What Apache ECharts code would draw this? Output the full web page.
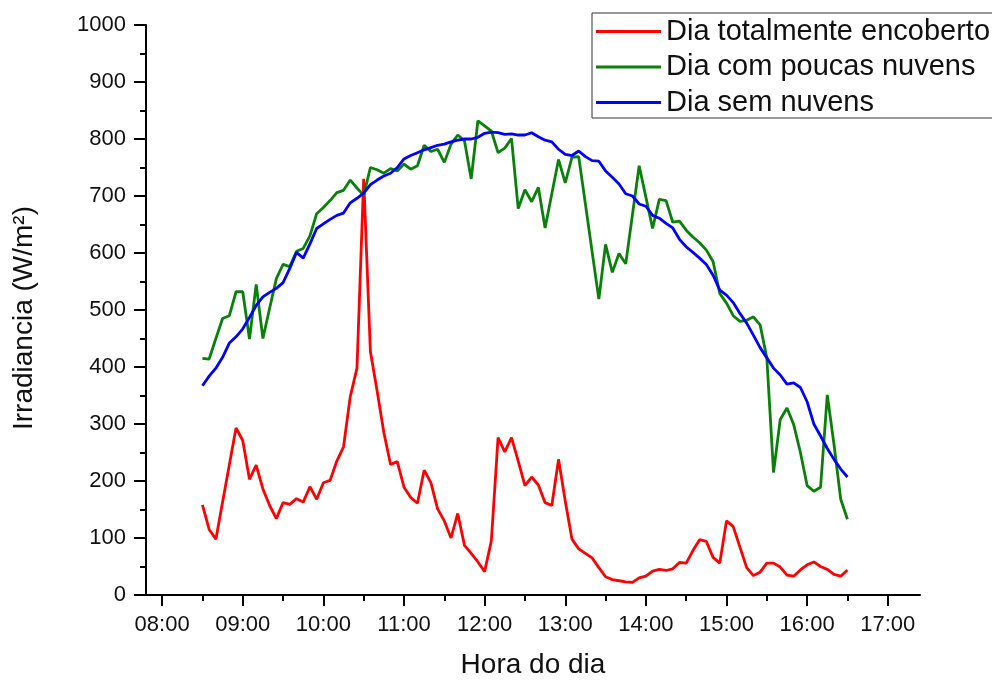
<!DOCTYPE html>
<html>
<head>
<meta charset="utf-8">
<title>Irradiancia</title>
<script src="https://cdn.jsdelivr.net/npm/echarts@6/dist/echarts.min.js"></script>
<style>
  html, body { margin: 0; padding: 0; background: #fff; }
  #chart { width: 992px; height: 684px; }
</style>
</head>
<body>
<div id="chart"></div>
<script>
// amostras a cada 5 min, de 08:30 a 16:30 (horas decimais)
var startHour = 8.5;
var stepMinutes = 5;

var seriesNames = ['Dia totalmente encoberto', 'Dia com poucas nuvens', 'Dia sem nuvens'];
var seriesColors = ['#ff0000', '#0a7f0a', '#0000ff'];

// W/m²
var encoberto = [
  158, 115, 98, 163, 228, 293, 271, 203, 228, 186, 157, 134, 162, 159, 169, 163,
  190, 168, 197, 201, 235, 260, 348, 398, 730, 427, 358, 285, 229, 234, 189, 171,
  161, 219, 197, 151, 130, 100, 143, 87, 73, 58, 41, 95, 276, 251, 276, 235,
  192, 207, 193, 162, 157, 238, 165, 98, 81, 73, 65, 48, 32, 27, 25, 23,
  22, 30, 33, 42, 45, 43, 46, 57, 56, 78, 97, 94, 66, 56, 130, 120,
  84, 48, 34, 40, 56, 56, 49, 35, 33, 44, 53, 58, 50, 45, 36, 33, 44
];
var poucasNuvens = [
  415, 414, 450, 485, 490, 532, 532, 449, 545, 450, 503, 555, 580, 576, 603, 608,
  630, 669, 680, 692, 706, 710, 728, 714, 701, 750, 746, 740, 748, 744, 756, 747,
  753, 789, 778, 782, 759, 791, 807, 797, 730, 832, 823, 814, 776, 784, 801, 678,
  711, 690, 715, 644, 704, 764, 723, 768, 769, 686, 602, 519, 615, 566, 599, 581,
  667, 753, 698, 643, 694, 692, 654, 656, 640, 628, 618, 605, 585, 529, 512, 490,
  480, 482, 488, 474, 416, 215, 308, 328, 299, 250, 192, 182, 189, 351, 264, 168, 133
];
var semNuvens = [
  367, 384, 398, 417, 442, 453, 467, 487, 508, 523, 531, 538, 548, 573, 601, 591,
  616, 643, 651, 659, 666, 670, 688, 696, 705, 720, 728, 735, 740, 750, 765, 771,
  776, 781, 785, 789, 791, 795, 798, 800, 800, 803, 810, 812, 811, 808, 809, 807,
  807, 811, 804, 798, 795, 782, 773, 771, 779, 769, 762, 761, 744, 733, 721, 704,
  700, 686, 682, 666, 661, 652, 644, 624, 611, 601, 591, 580, 561, 535, 526, 513,
  494, 477, 456, 434, 416, 398, 386, 370, 372, 364, 339, 300, 279, 257, 238, 221, 207
];

var hourTicks = [8, 9, 10, 11, 12, 13, 14, 15, 16, 17];
var halfHourTicks = [8.5, 9.5, 10.5, 11.5, 12.5, 13.5, 14.5, 15.5, 16.5];

var times = [];
for (var i = 0; i < encoberto.length; i++) {
  times.push(startHour + i * stepMinutes / 60);
}

function pairs(values) {
  return values.map(function (v, i) { return [times[i], v]; });
}

function hourLabel(v) {
  var h = Math.round(v);
  return (h < 10 ? '0' + h : '' + h) + ':00';
}

var chart = echarts.init(document.getElementById('chart'));
var font = 'Arial, "Liberation Sans", sans-serif';

var option = {
  backgroundColor: '#fff',
  animation: false,
  grid: { left: 146, top: 25, right: 72, bottom: 86 },
  legend: {
    left: 592,
    top: 13,
    orient: 'vertical',
    data: seriesNames,
    icon: 'rect',
    itemWidth: 65,
    itemHeight: 3,
    itemGap: 6.5,
    padding: [4, 30, 1, 4],
    borderColor: '#333',
    borderWidth: 1,
    backgroundColor: '#fff',
    textStyle: { fontFamily: font, fontSize: 29, color: '#111' }
  },
  xAxis: [
    {
      type: 'value',
      min: 7.8,
      max: 17.4,
      name: 'Hora do dia',
      nameLocation: 'middle',
      nameGap: 56,
      nameTextStyle: { fontFamily: font, fontSize: 28, color: '#111' },
      axisLine: { lineStyle: { color: '#000', width: 2 } },
      axisTick: { inside: false, length: 11, lineStyle: { width: 2, color: '#000' }, customValues: hourTicks },
      axisLabel: { fontFamily: font, fontSize: 22, color: '#111', margin: 19, customValues: hourTicks, formatter: hourLabel },
      splitLine: { show: false }
    },
    {
      type: 'value',
      min: 7.8,
      max: 17.4,
      position: 'bottom',
      axisLine: { show: false },
      axisTick: { inside: false, length: 6, lineStyle: { width: 2, color: '#000' }, customValues: halfHourTicks },
      axisLabel: { show: false },
      splitLine: { show: false }
    }
  ],
  yAxis: {
    type: 'value',
    min: 0,
    max: 1000,
    interval: 100,
    name: 'Irradiancia (W/m²)',
    nameLocation: 'middle',
    nameGap: 108,
    nameTextStyle: { fontFamily: font, fontSize: 28, color: '#111', padding: [0, 16, 0, 0] },
    axisLine: { show: true, lineStyle: { color: '#000', width: 2 } },
    axisTick: { show: true, inside: false, length: 12, lineStyle: { width: 2, color: '#000' } },
    minorTick: { show: true, splitNumber: 2, length: 6, lineStyle: { width: 2, color: '#000' } },
    axisLabel: { fontFamily: font, fontSize: 22, color: '#111', margin: 20, formatter: function (v) { return String(v); } },
    splitLine: { show: false }
  },
  series: [
    { name: seriesNames[0], data: pairs(encoberto) },
    { name: seriesNames[1], data: pairs(poucasNuvens) },
    { name: seriesNames[2], data: pairs(semNuvens) }
  ].map(function (s, k) {
    s.type = 'line';
    s.symbol = 'none';
    s.color = seriesColors[k];
    s.lineStyle = { width: 2.8, color: seriesColors[k] };
    return s;
  })
};

chart.setOption(option);
</script>
</body>
</html>
